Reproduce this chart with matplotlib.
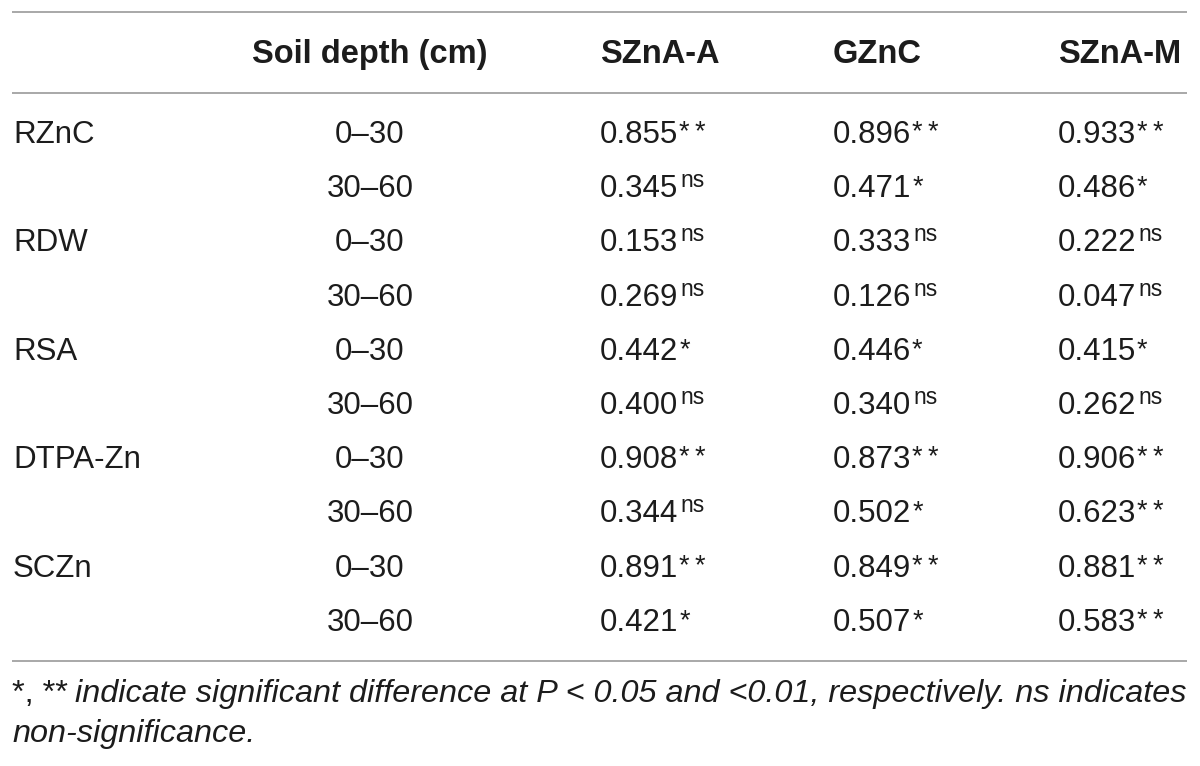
import matplotlib
matplotlib.use("Agg")
import matplotlib.pyplot as plt

# ---- data ----
variables = ["RZnC", "RDW", "RSA", "DTPA-Zn", "SCZn"]
depths = ["0–30", "30–60"]
col_headers = ["Soil depth (cm)", "SZnA-A", "GZnC", "SZnA-M"]
szna_a = [0.855, 0.345, 0.153, 0.269, 0.442, 0.400, 0.908, 0.344, 0.891, 0.421]
szna_a_sig = ["**", "ns", "ns", "ns", "*", "ns", "**", "ns", "**", "*"]
gznc = [0.896, 0.471, 0.333, 0.126, 0.446, 0.340, 0.873, 0.502, 0.849, 0.507]
gznc_sig = ["**", "*", "ns", "ns", "*", "ns", "**", "*", "**", "*"]
szna_m = [0.933, 0.486, 0.222, 0.047, 0.415, 0.262, 0.906, 0.623, 0.881, 0.583]
szna_m_sig = ["**", "*", "ns", "ns", "*", "ns", "**", "**", "**", "**"]
foot_marks = "*, **"
foot_line1 = "indicate significant difference at P < 0.05 and <0.01, respectively. ns indicates"
foot_line2 = "non-significance."

# ---- layout ----
W, H = 1200, 766
fig = plt.figure(figsize=(W / 100, H / 100), dpi=100)
ax = fig.add_axes([0, 0, 1, 1])
ax.set_xlim(0, W)
ax.set_ylim(H, 0)
ax.axis("off")

FONT = "Liberation Sans"
FS = 22.5
FS_HEAD = 23.5
FS_NS = 16.5
FS_AST = 19.5
FS_FOOT = 23.3
TXT = "#1c1c1c"
RULE = "#9a9a9a"

for y in (12, 93, 661):
    ax.plot([12, 1187], [y, y], color=RULE, lw=1.2, solid_capstyle="butt")

header_base = 63
x_depth = 370
x_cols = [600, 833, 1058]
ax.text(x_depth, header_base, col_headers[0], ha="center", va="baseline",
        fontsize=FS_HEAD, fontweight="bold", family=FONT, color=TXT)
for x, h in zip(x_cols, col_headers[1:]):
    ax.text(x, header_base, h, ha="left", va="baseline", fontsize=FS_HEAD,
            fontweight="bold", family=FONT, color=TXT)

row0 = 143
dy = 54.2
columns = [(szna_a, szna_a_sig), (gznc, gznc_sig), (szna_m, szna_m_sig)]
for i in range(len(variables) * len(depths)):
    y = row0 + i * dy
    if i % 2 == 0:
        ax.text(13, y, variables[i // 2], ha="left", va="baseline",
                fontsize=FS, family=FONT, color=TXT)
    ax.text(x_depth, y, depths[i % 2], ha="center", va="baseline",
            fontsize=FS, family=FONT, color=TXT)
    for x, (vals, sigs) in zip(x_cols, columns):
        t = ax.text(x, y, f"{vals[i]:.3f}", ha="left", va="baseline",
                    fontsize=FS, family=FONT, color=TXT)
        if sigs[i] == "ns":
            ax.annotate(sigs[i], xy=(1, y - 10), xycoords=(t, "data"),
                        xytext=(1.5, 0), textcoords="offset points",
                        ha="left", va="baseline",
                        fontsize=FS_NS, family=FONT, color=TXT)
        else:
            ax.annotate(" ".join(sigs[i]).replace(" ", "\u2009"),
                        xy=(1, y - 3), xycoords=(t, "data"),
                        xytext=(0.5, 0), textcoords="offset points",
                        ha="left", va="baseline",
                        fontsize=FS_AST, family=[FONT, "DejaVu Sans"],
                        color=TXT)

t1 = ax.text(12, 702, foot_marks, ha="left", va="baseline", fontsize=FS_FOOT,
             family=FONT, color=TXT)
ax.annotate(foot_line1, xy=(1, 702), xycoords=(t1, "data"), xytext=(5, 0),
            textcoords="offset points", ha="left", va="baseline",
            fontsize=FS_FOOT, family=FONT, style="italic", color=TXT)
ax.text(12, 742, foot_line2, ha="left", va="baseline", fontsize=FS_FOOT,
        family=FONT, style="italic", color=TXT)

fig.savefig("out.png", dpi=100, facecolor="white")
